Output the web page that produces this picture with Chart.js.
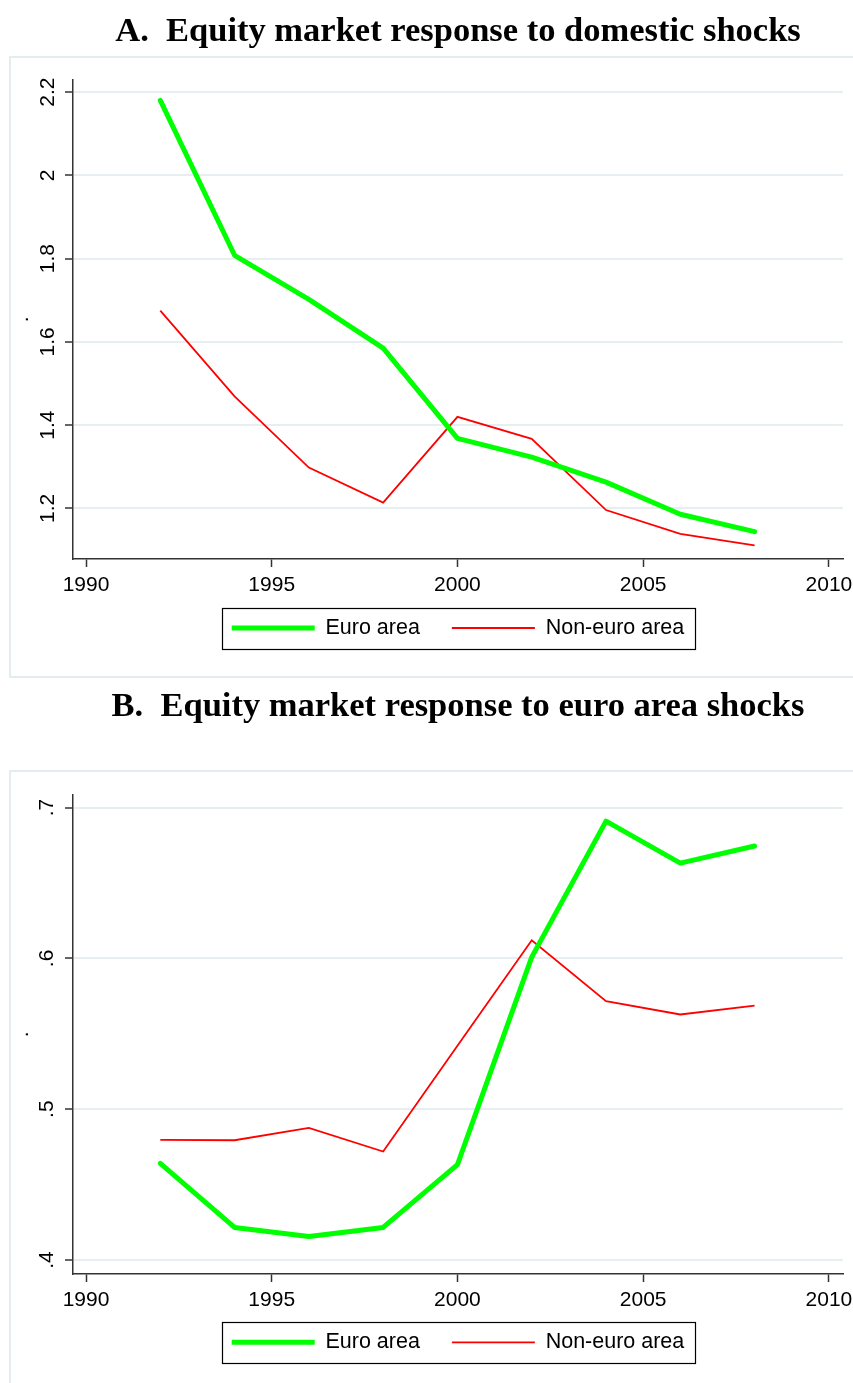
<!DOCTYPE html>
<html lang="en">
<head>
<meta charset="UTF-8">
<title>Equity market response</title>
<script src="https://cdn.jsdelivr.net/npm/chart.js"></script>
<style>
  html, body { margin: 0; padding: 0; background: #fff; overflow: hidden; }
  .panel { position: absolute; left: 0; }
</style>
</head>
<body>
<div class="panel" style="top:0"><canvas id="chartA" width="853" height="690"></canvas></div>
<div class="panel" style="top:680px"><canvas id="chartB" width="853" height="720"></canvas></div>
<script>
// data
const years = [1992, 1994, 1996, 1998, 2000, 2002, 2004, 2006, 2008];
const xTicks = [1990, 1995, 2000, 2005, 2010];

const euroDomestic    = [2.18, 1.808, 1.702, 1.585, 1.368, 1.323, 1.263, 1.186, 1.144];
const nonEuroDomestic = [1.675, 1.469, 1.298, 1.214, 1.42, 1.367, 1.196, 1.139, 1.111];
const yTicksDomestic  = [1.2, 1.4, 1.6, 1.8, 2, 2.2];
const yLabelsDomestic = ['1.2', '1.4', '1.6', '1.8', '2', '2.2'];

const euroEuroShock    = [0.464, 0.4216, 0.4155, 0.4216, 0.4632, 0.6008, 0.691, 0.6632, 0.6745];
const nonEuroEuroShock = [0.4796, 0.4794, 0.4876, 0.4719, 0.542, 0.612, 0.5716, 0.5628, 0.5686];
const yTicksEuroShock  = [0.4, 0.5, 0.6, 0.7];
const yLabelsEuroShock = ['.4', '.5', '.6', '.7'];

const tickFont = { family: 'Liberation Sans', size: 21 };
const legendFont = { family: 'Liberation Sans', size: 21.5 };

// light outer frame of each panel
const panelFrame = {
    id: 'panelFrame',
    beforeDraw(chart, args, opts) {
        const ctx = chart.ctx;
        ctx.save();
        ctx.fillStyle = '#fff';
        ctx.fillRect(0, 0, chart.width, chart.height);
        ctx.strokeStyle = '#e3ecef';
        ctx.lineWidth = 2;
        ctx.strokeRect(opts.left, opts.top, chart.width, opts.height);
        ctx.restore();
    }
};

// black box round the legend items
const legendBorder = {
    id: 'legendBorder',
    afterDraw(chart, args, opts) {
        const boxes = chart.legend.legendHitBoxes;
        if (!boxes || !boxes.length) return;
        const left = Math.min(...boxes.map(b => b.left)) - opts.padX;
        const right = Math.max(...boxes.map(b => b.left + b.width)) + opts.padX;
        const top = boxes[0].top - opts.padY;
        const bottom = boxes[0].top + boxes[0].height + opts.padY;
        const ctx = chart.ctx;
        ctx.save();
        ctx.strokeStyle = '#000';
        ctx.lineWidth = 1.2;
        ctx.strokeRect(Math.round(left) + 0.5, Math.round(top) + 0.5, Math.round(right - left), Math.round(bottom - top));
        ctx.restore();
    }
};

const makeChart = (id, cfg) => {
    const pts = (vals) => years.map((yr, i) => ({ x: yr, y: vals[i] }));
    return new Chart(document.getElementById(id), {
        type: 'line',
        data: {
            datasets: [
                { label: 'Euro area', data: pts(cfg.euro), borderColor: '#00ff00', borderWidth: 5,
                  borderCapStyle: 'round', borderJoinStyle: 'round', pointRadius: 0, tension: 0 },
                { label: 'Non-euro area', data: pts(cfg.nonEuro), borderColor: '#ff0000', borderWidth: 1.8,
                  borderJoinStyle: 'miter', pointRadius: 0, tension: 0 }
            ]
        },
        options: {
            responsive: false,
            animation: false,
            devicePixelRatio: 1,
            layout: { padding: { left: 10, right: 10, top: cfg.padTop, bottom: cfg.padBottom } },
            scales: {
                x: {
                    type: 'linear', min: 1989.65, max: 2010.38,
                    afterBuildTicks: (s) => { s.ticks = xTicks.map(v => ({ value: v })); },
                    afterFit: (s) => {
                        s.height = cfg.xHeight; s.paddingLeft = 0; s.paddingRight = 0;
                        s._computeLabelArea = () => undefined; // let the year labels spill below the thin axis box
                    },
                    grid: { drawOnChartArea: false, tickLength: 8, tickColor: '#333', tickWidth: 1.5 },
                    border: { color: '#333', width: 1.5 },
                    ticks: { color: '#000', font: tickFont, padding: 5.5, maxRotation: 0,
                             callback: (v) => String(v) }
                },
                y: {
                    type: 'linear', min: cfg.yMin, max: cfg.yMax,
                    afterBuildTicks: (s) => { s.ticks = cfg.yTicks.map(v => ({ value: v })); },
                    afterFit: (s) => { s.width = 63; s.paddingTop = 0; s.paddingBottom = 0; },
                    grid: { color: '#e6eef1', lineWidth: 2, tickLength: 8, tickColor: '#333', tickWidth: 1.5 },
                    border: { color: '#333', width: 1.5 },
                    ticks: { color: '#000', font: tickFont, minRotation: 90, maxRotation: 90,
                             crossAlign: 'center', padding: cfg.yPad,
                             callback: (v) => cfg.yLabels[cfg.yTicks.indexOf(v)] },
                    title: { display: true, text: '.', color: '#000', font: tickFont, padding: 0 }
                }
            },
            plugins: {
                title: {
                    display: true, text: cfg.title, fullSize: false, color: '#000',
                    font: { family: 'Liberation Serif', size: 34.5, weight: 'bold' },
                    padding: { top: 0, bottom: cfg.titleGap }
                },
                legend: {
                    position: 'bottom', fullSize: false,
                    labels: { usePointStyle: true, pointStyle: 'line', pointStyleWidth: 83, boxHeight: 21,
                              font: legendFont, color: '#000', padding: 32 }
                },
                tooltip: { enabled: false },
                panelFrame: { left: 10, top: cfg.frameTop, height: cfg.frameHeight },
                legendBorder: { padX: 10, padY: 9.5 }
            }
        },
        plugins: [panelFrame, legendBorder]
    });
};

makeChart('chartA', {
    title: 'A.  Equity market response to domestic shocks',
    euro: euroDomestic, nonEuro: nonEuroDomestic,
    yMin: 1.0784, yMax: 2.23, yTicks: yTicksDomestic, yLabels: yLabelsDomestic, yPad: 2.4,
    padTop: 11.6, titleGap: 26.6, xHeight: 26.25, padBottom: 41.25, frameTop: 57, frameHeight: 620
});

makeChart('chartB', {
    title: 'B.  Equity market response to euro area shocks',
    euro: euroEuroShock, nonEuro: nonEuroEuroShock,
    yMin: 0.3907, yMax: 0.7086, yTicks: yTicksEuroShock, yLabels: yLabelsEuroShock, yPad: 9.25,
    padTop: 6.6, titleGap: 66.6, xHeight: 25.55, padBottom: 36.95, frameTop: 91, frameHeight: 800
});
</script>
</body>
</html>
